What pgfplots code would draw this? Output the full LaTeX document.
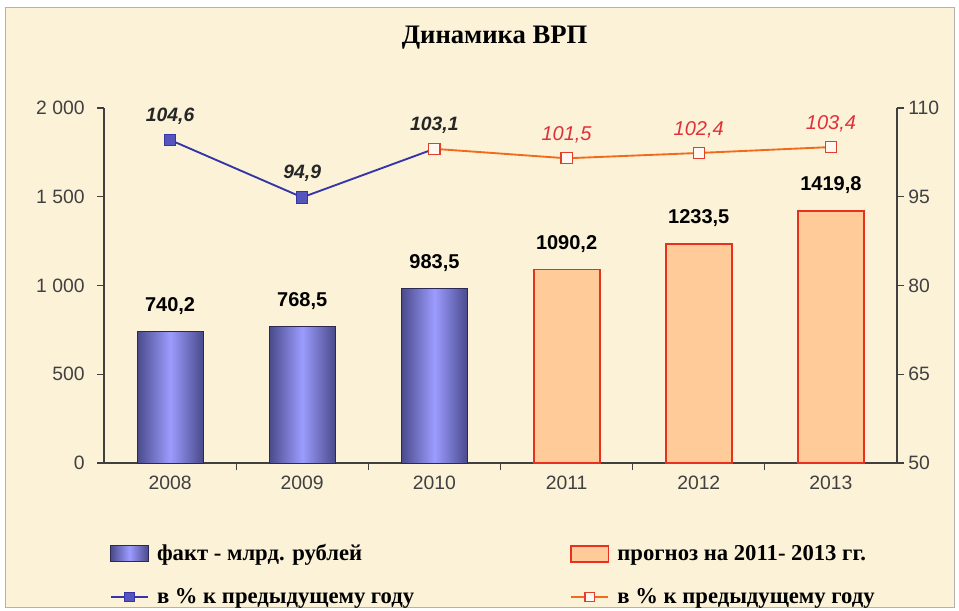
\documentclass[border=0pt]{standalone}
\usepackage{pgfplots}
\pgfplotsset{compat=1.18}
\usepackage{fontspec}
\setmainfont{Liberation Serif}
\newfontfamily\arial{Liberation Sans}
\definecolor{bgc}{HTML}{FBF2D8}
\definecolor{barblue}{HTML}{9C9CFF}
\definecolor{bardark}{HTML}{4A4A8C}
\definecolor{baredge}{HTML}{2A2A55}
\definecolor{barorange}{HTML}{FFCC99}
\definecolor{orangeedge}{HTML}{E8301E}
\definecolor{lineblue}{HTML}{3535A8}
\definecolor{markblue}{HTML}{5555BB}
\definecolor{lineorange}{HTML}{F26A1B}
\definecolor{markorange}{HTML}{E0402A}
\definecolor{labred}{HTML}{E0303A}
\definecolor{axgray}{HTML}{404040}
\pgfplotsset{
  boxlegend/.style={legend image code/.code={\draw[##1] (0pt,-6pt) rectangle (28pt,6pt);}},
  linelegend/.style={legend image code/.code={\draw[mark repeat=2,mark phase=2,##1] plot coordinates {(0pt,0pt)(14pt,0pt)(28pt,0pt)};}},
  bluebar/.style={ybar, bar width=49.5pt, bar shift=0pt, draw=baredge, line width=0.6pt,
    left color=bardark, right color=bardark, middle color=barblue,
    nodes near coords={\pgfmathprintnumber[fixed,fixed zerofill,precision=1,use comma,1000 sep={}]{\pgfplotspointmeta}},
    nodes near coords style={font=\arial\bfseries\fontsize{15}{15}\selectfont, text=black, yshift=9pt}},
}
\begin{document}
\begin{tikzpicture}
\fill[white] (0pt,0pt) rectangle (719.25pt,457.5pt);
\draw[gray!60, line width=1pt, fill=bgc] (4pt,2pt) rectangle (716pt,452pt);
\node[font=\bfseries\fontsize{20}{20}\selectfont] at (371pt,429.5pt) {Динамика ВРП};
\begin{axis}[
  at={(78pt,110.25pt)}, anchor=south west,
  scale only axis, width=594.75pt, height=266.25pt,
  xmin=-0.5, xmax=5.5, ymin=0, ymax=2000,
  axis x line*=bottom, axis y line*=left,
  axis line style={-, draw=axgray, line width=0.8pt},
  tick style={draw=axgray, line width=0.8pt},
  tick align=outside, major tick length=5pt,
  ytick={0,500,1000,1500,2000},
  yticklabels={0,500,1 000,1 500,2 000},
  xtick={0.5,1.5,2.5,3.5,4.5}, xticklabels={},
  extra x ticks={0,1,2,3,4,5},
  extra x tick labels={2008,2009,2010,2011,2012,2013},
  extra x tick style={major tick length=0pt},
  ticklabel style={font=\arial\fontsize{14.5}{14.5}\selectfont, text=axgray},
  xticklabel style={yshift=-6pt},
  yticklabel style={xshift=-6pt},
  /pgf/number format/assume math mode=true,
  clip=false,
]
\addplot[bluebar] coordinates {(0,740.2)};
\addplot[bluebar] coordinates {(1,768.5)};
\addplot[bluebar] coordinates {(2,983.5)};
\addplot[ybar, bar width=49.5pt, bar shift=0pt, draw=orangeedge, line width=1.4pt,
  fill=barorange,
  nodes near coords={\pgfmathprintnumber[fixed,fixed zerofill,precision=1,use comma,1000 sep={}]{\pgfplotspointmeta}},
  nodes near coords style={font=\arial\bfseries\fontsize{15}{15}\selectfont, text=black, yshift=9pt}]
  coordinates {(3,1090.2) (4,1233.5) (5,1419.8)};
\end{axis}
\begin{axis}[
  at={(78pt,110.25pt)}, anchor=south west,
  scale only axis, width=594.75pt, height=266.25pt,
  xmin=-0.5, xmax=5.5, ymin=50, ymax=110,
  axis x line=none, axis y line*=right,
  axis line style={-, draw=axgray, line width=0.8pt},
  tick style={draw=axgray, line width=0.8pt},
  tick align=outside, major tick length=5pt,
  ytick={50,65,80,95,110},
  ticklabel style={font=\arial\fontsize{14.5}{14.5}\selectfont, text=axgray},
  /pgf/number format/assume math mode=true,
  clip=false,
  legend columns=2,
  legend cell align=left,
  legend style={at={(axis description cs:0.007,-0.222)}, anchor=north west,
    draw=none, fill=none, font=\bfseries\fontsize{17}{17}\selectfont,
    row sep=15pt, inner sep=0pt,
    /tikz/every odd column/.append style={column sep=4pt},
    /tikz/every even column/.append style={column sep=115pt}},
]
\addlegendimage{boxlegend, draw=baredge, line width=0.6pt, left color=bardark, right color=bardark, middle color=barblue}
\addlegendentry{факт - млрд. рублей}
\addlegendimage{boxlegend, draw=orangeedge, line width=1.4pt, fill=barorange}
\addlegendentry{прогноз на 2011- 2013 гг.}
\addlegendimage{linelegend, color=lineblue, line width=1.4pt, mark=square*, mark size=3.6pt, mark options={fill=markblue, draw=lineblue, line width=0.6pt}}
\addlegendentry{в \% к предыдущему году}
\addlegendimage{linelegend, color=lineorange, line width=1.4pt, mark=square*, mark size=3.6pt, mark options={fill=white!85!barorange, draw=markorange, line width=0.8pt}}
\addlegendentry{в \% к предыдущему году}
\addplot[color=lineblue, line width=1.4pt, mark=square*, mark size=4.2pt,
  mark options={fill=markblue, draw=lineblue, line width=0.6pt},
  nodes near coords={\pgfmathprintnumber[fixed,fixed zerofill,precision=1,use comma]{\pgfplotspointmeta}},
  nodes near coords style={font=\arial\bfseries\itshape\fontsize{14.5}{14.5}\selectfont, text=black!85, yshift=8pt}]
  coordinates {(0,104.6) (1,94.9) (2,103.1)};
\addplot[color=lineorange, line width=1.4pt, mark=square*, mark size=4.2pt,
  mark options={fill=white!85!barorange, draw=markorange, line width=0.8pt}]
  coordinates {(2,103.1) (3,101.5) (4,102.4) (5,103.4)};
\addplot[draw=none, forget plot,
  nodes near coords={\pgfmathprintnumber[fixed,fixed zerofill,precision=1,use comma]{\pgfplotspointmeta}},
  nodes near coords style={font=\arial\itshape\fontsize{15}{15}\selectfont, text=labred, yshift=8pt}]
  coordinates {(3,101.5) (4,102.4) (5,103.4)};
\end{axis}
\end{tikzpicture}
\end{document}
